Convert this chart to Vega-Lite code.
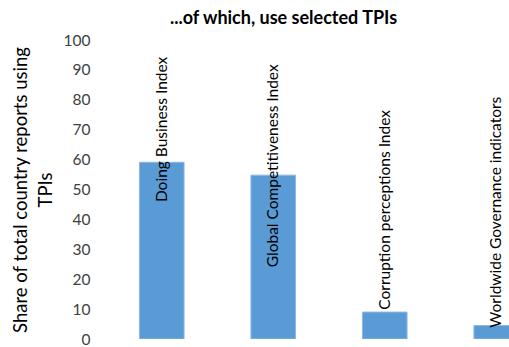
{
  "$schema": "https://vega.github.io/schema/vega-lite/v6.json",
  "width": 403,
  "height": 299,
  "autosize": "none",
  "padding": {"left": 106, "top": 40, "right": 0, "bottom": 8},
  "background": "white",
  "title": {
    "text": "...of which, use selected TPIs",
    "font": "Lato",
    "fontSize": 18,
    "fontWeight": "bold",
    "color": "#000000",
    "anchor": "middle",
    "frame": "group",
    "dx": -24,
    "offset": 5
  },
  "config": {
    "view": {"stroke": null},
    "axisY": {
      "labelOverlap": false,
      "domain": false,
      "ticks": false,
      "grid": false,
      "labelFont": "Lato",
      "labelFontSize": 15.5,
      "labelColor": "#404040",
      "labelPadding": 16,
      "titleFont": "Lato",
      "titleFontSize": 18.5,
      "titleFontWeight": "normal",
      "titleColor": "#000000",
      "titlePadding": 8,
      "titleLineHeight": 25
    }
  },
  "data": {
    "values": [
      {"index": "Doing Business Index", "share": 59.1, "labelAt": 45.8},
      {"index": "Global Competitiveness Index", "share": 54.8, "labelAt": 24},
      {"index": "Corruption perceptions Index", "share": 9.0, "labelAt": 9.8},
      {"index": "Worldwide Governance indicators", "share": 4.5, "labelAt": 3.8}
    ]
  },
  "encoding": {
    "x": {
      "field": "index",
      "type": "nominal",
      "sort": null,
      "scale": {"range": [0, 446], "paddingInner": 0.6, "paddingOuter": 0.3},
      "axis": null
    }
  },
  "layer": [
    {
      "mark": {"type": "bar", "color": "#5B9BD5", "stroke": "#8DB8E2", "strokeWidth": 1, "clip": true},
      "encoding": {
        "y": {
          "field": "share",
          "type": "quantitative",
          "scale": {"domain": [0, 100], "nice": false},
          "axis": {
            "values": [0, 10, 20, 30, 40, 50, 60, 70, 80, 90, 100],
            "labelOverlap": false,
            "title": ["Share of total country reports using", "TPIs"]
          }
        }
      }
    },
    {
      "mark": {"type": "text", "angle": 270, "align": "left", "baseline": "middle", "font": "Lato", "fontSize": 15.5, "color": "#000000"},
      "encoding": {
        "y": {
          "field": "labelAt",
          "type": "quantitative",
          "scale": {"domain": [0, 100], "nice": false},
          "axis": {
            "values": [0, 10, 20, 30, 40, 50, 60, 70, 80, 90, 100],
            "labelOverlap": false,
            "title": ["Share of total country reports using", "TPIs"]
          }
        },
        "text": {"field": "index"}
      }
    }
  ]
}
